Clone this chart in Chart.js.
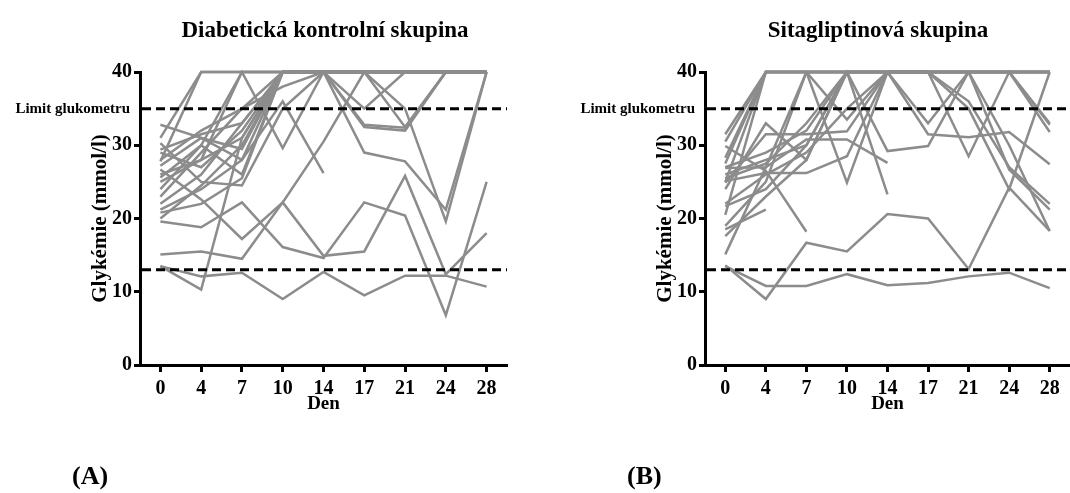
<!DOCTYPE html>
<html>
<head>
<meta charset="utf-8">
<script src="https://cdn.jsdelivr.net/npm/chart.js@4"></script>
<style>
  body { margin: 0; width: 1070px; height: 493px; background: #fff; position: relative; overflow: hidden; font-family: 'Liberation Serif', serif; }
  .box { position: absolute; top: 0; height: 493px; }
  #boxA { left: 0; width: 535px; }
  #boxB { left: 565px; width: 505px; }
  .tag { position: absolute; top: 461px; font-weight: bold; font-size: 26px; color: #000; }
</style>
</head>
<body>
<div class="box" id="boxA"><canvas id="chartA"></canvas></div>
<div class="box" id="boxB"><canvas id="chartB"></canvas></div>
<div class="tag" style="left:72px">(A)</div>
<div class="tag" style="left:627px">(B)</div>
<script>
// days of measurement
const days = ['0', '4', '7', '10', '14', '17', '21', '24', '28'];
const yTicks = [0, 10, 20, 30, 40];
// meter limit (35) and lower reference line (13)
const limits = [35, 13];

// glycaemia per animal, mmol/l (values above meter limit shown as 40)
const controlGroup = [
    [13.5, 12.1, 12.6, 9.0, 12.7, 9.5, 12.2, 12.2, 10.7],
    [13.5, 10.3, 31.0, 40, 40, 40, 40, 40, 40],
    [15.1, 15.5, 14.5, 22.2, 14.9, 15.5, 25.8, 12.4, 18.0],
    [19.6, 18.8, 22.2, 16.1, 14.6, 22.2, 20.4, 6.8, 25.0],
    [26.7, 22.6, 17.2, 22.2, 30.5, 40, 40, 40, 40],
    [20.8, 22.0, 25.5, 40, 40, 40, 40, 40, 40],
    [21.2, 24.0, 28.0, 40, 40, 40, 40, 40, 40],
    [25.0, 28.0, 31.0, 40, 40, 40, 40, 40, 40],
    [25.6, 30.0, 26.0, 40, 40, 40, 40, 40, 40],
    [27.2, 31.0, 29.5, 40, 40, 35.0, 40, 40, 40],
    [27.8, 40, 40, 40, 40, 40, 40, 40, 40],
    [29.4, 31.5, 33.0, 40, 40, 40, 32.5, 40, 40],
    [30.3, 25.0, 24.5, 35.0, 40, 40, 40, 40, 40],
    [31.0, 40, 40, 40, 40, 40, 40, 40, 40],
    [32.8, 31.0, 28.0, 36.0, 26.2, null, null, null, null],
    [24.0, 30.0, 40, 29.6, 40, 40, 40, 40, 40],
    [26.0, 28.0, 40, 40, 40, 32.8, 32.4, 40, 40],
    [28.0, 32.0, 35.0, 40, 40, 32.5, 32.0, 40, 40],
    [29.0, 27.0, 32.0, 40, 40, 29.0, 27.8, 21.2, 40],
    [22.0, 26.0, 33.0, 40, 40, 40, 35.0, 19.6, 40],
    [20.0, 24.5, 30.0, 40, 40, 40, 40, 40, 40],
    [23.0, 29.0, 35.0, 38.0, 40, 40, 40, 40, 40]
];

const sitagliptinGroup = [
    [13.5, 10.8, 10.8, 12.4, 10.9, 11.2, 12.1, 12.6, 10.5],
    [13.6, 9.0, 16.7, 15.5, 20.6, 20.0, 13.1, 24.2, 18.3],
    [15.1, 27.0, 40, 40, 40, 40, 40, 40, 40],
    [18.5, 21.2, null, null, null, null, null, null, null],
    [17.6, 23.0, 28.0, 40, 40, 40, 40, 40, 40],
    [30.5, 40, 40, 40, 40, 40, 40, 40, 40],
    [29.9, 26.5, 18.2, null, null, null, null, null, null],
    [25.1, 26.2, 26.2, 28.5, 40, 40, 40, 40, 40],
    [24.9, 31.5, 31.5, 31.9, 40, 40, 40, 40, 31.8],
    [26.9, 27.0, 30.8, 30.8, 27.6, null, null, null, null],
    [28.3, 40, 40, 24.9, 40, 40, 40, 40, 40],
    [21.7, 24.0, 30.0, 40, 40, 40, 40, 40, 40],
    [20.5, 40, 40, 40, 23.3, null, null, null, null],
    [27.0, 29.0, 32.0, 40, 29.2, 29.9, 40, 40, 40],
    [26.0, 28.0, 30.0, 40, 40, 31.5, 31.1, 31.8, 27.4],
    [25.0, 40, 40, 40, 40, 40, 28.5, 40, 32.8],
    [24.0, 33.0, 28.0, 40, 40, 40, 40, 26.7, 21.2],
    [31.5, 40, 40, 40, 40, 40, 40, 30.0, 18.3],
    [22.0, 26.0, 29.0, 35.0, 40, 33.0, 40, 40, 33.0],
    [25.5, 27.5, 33.0, 40, 40, 40, 36.0, 27.0, 22.0],
    [19.0, 25.0, 40, 40, 40, 40, 40, 40, 40],
    [27.5, 40, 40, 33.5, 40, 40, 35.0, 24.0, 40]
];

const serif = 'Liberation Serif';

// title, meter label and dashed reference lines
const overlay = {
    id: 'overlay',
    afterDatasetsDraw(chart, args, opts) {
        const { ctx, chartArea } = chart;
        const y = chart.scales.y;
        ctx.save();
        ctx.strokeStyle = '#000';
        ctx.lineWidth = 3;
        ctx.setLineDash([9, 5]);
        limits.forEach(v => {
            const py = y.getPixelForValue(v);
            ctx.beginPath();
            ctx.moveTo(chartArea.left + 2, py);
            ctx.lineTo(chartArea.right, py);
            ctx.stroke();
        });
        ctx.setLineDash([]);
        ctx.fillStyle = '#000';
        ctx.textBaseline = 'middle';
        ctx.textAlign = 'right';
        ctx.font = 'bold 15px "' + serif + '"';
        ctx.fillText('Limit glukometru', chartArea.left - 10, y.getPixelForValue(limits[0]));
        ctx.textAlign = 'center';
        ctx.font = 'bold 23px "' + serif + '"';
        ctx.fillText(opts.title, opts.titleX, 31);
        ctx.restore();
    }
};

function makeChart(id, series, title, titleX, padRight) {
    return new Chart(document.getElementById(id), {
        type: 'line',
        data: {
            labels: days,
            datasets: series.map(s => ({
                data: s,
                borderColor: '#8c8c8c',
                borderWidth: 2.5,
                pointRadius: 0,
                tension: 0,
                clip: false
            }))
        },
        options: {
            responsive: true,
            maintainAspectRatio: false,
            animation: false,
            layout: { padding: { top: 72, left: 88, right: padRight, bottom: 78 } },
            plugins: {
                legend: { display: false },
                tooltip: { enabled: false },
                overlay: { title: title, titleX: titleX }
            },
            scales: {
                x: {
                    offset: true,
                    afterFit: s => { s.height = 50; },
                    border: { color: '#000', width: 3 },
                    grid: { display: true, offset: false, drawOnChartArea: false, tickLength: 7, tickColor: '#000', tickWidth: 3 },
                    ticks: { color: '#000', padding: 5, font: { family: serif, size: 20, weight: 'bold' } },
                    title: { display: true, text: 'Den', color: '#000', padding: 0, font: { family: serif, size: 19, weight: 'bold' } }
                },
                y: {
                    min: 0,
                    max: 40,
                    afterFit: s => { s.width = 52; },
                    afterBuildTicks: s => { s.ticks = yTicks.map(v => ({ value: v })); },
                    border: { color: '#000', width: 3 },
                    grid: { display: true, drawOnChartArea: false, tickLength: 6, tickColor: '#000', tickWidth: 3 },
                    ticks: { color: '#000', padding: 2, font: { family: serif, size: 20, weight: 'bold' } },
                    title: { display: true, text: 'Glykémie (mmol/l)', color: '#000', padding: 0, font: { family: serif, size: 21, weight: 'bold' } }
                }
            }
        },
        plugins: [overlay]
    });
}

makeChart('chartA', controlGroup, 'Diabetická kontrolní skupina', 325, 28);
makeChart('chartB', sitagliptinGroup, 'Sitagliptinová skupina', 313, 0);
</script>
</body>
</html>
